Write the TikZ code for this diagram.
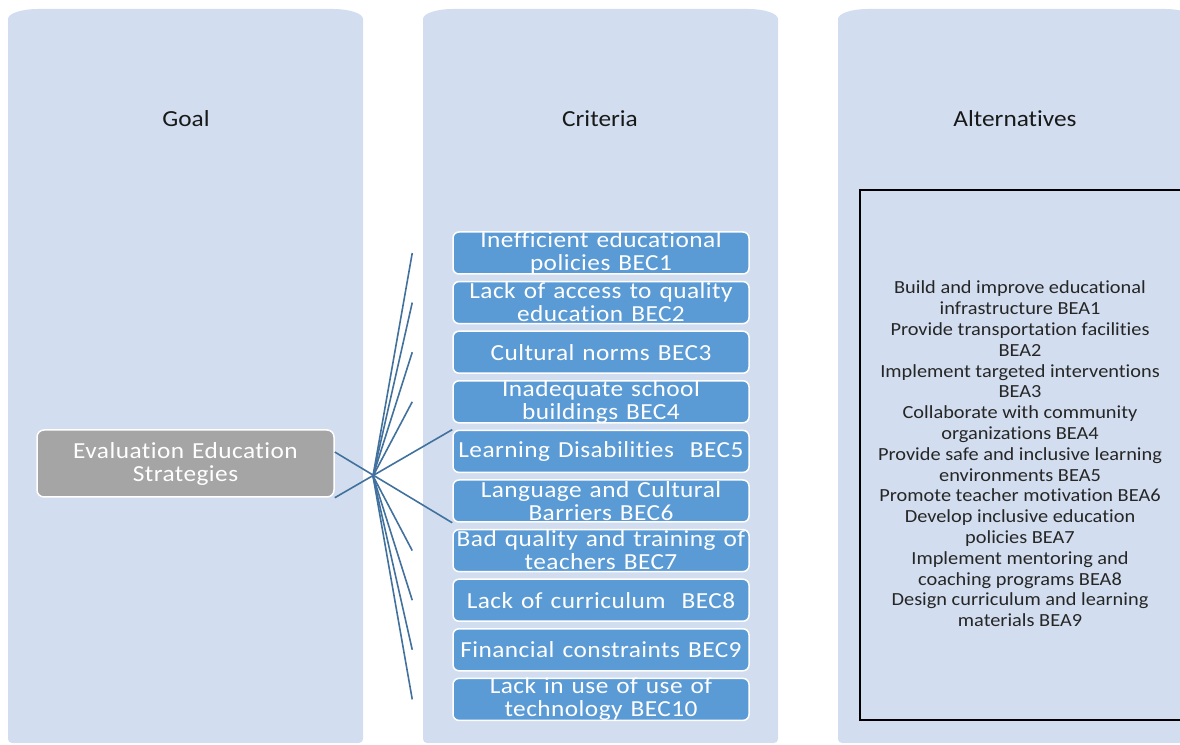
\documentclass[tikz,border=0pt]{standalone}
\usepackage{fontspec}
\setmainfont[FakeStretch=1.1,Ligatures={NoCommon},Contextuals={NoAlternate}]{Carlito}
\newfontfamily\boxfont[FakeStretch=1.1,LetterSpace=2,Ligatures={NoCommon},Contextuals={NoAlternate},WordSpace=1.3]{Carlito}
\usetikzlibrary{calc}

\definecolor{panelfill}{RGB}{210,222,239}
\definecolor{critfill}{RGB}{91,155,213}
\definecolor{goalfill}{RGB}{165,165,165}
\definecolor{linkcol}{RGB}{65,113,156}
\definecolor{alttext}{RGB}{38,38,38}

% a tall panel with wide elliptic top corners and small bottom corners
\newcommand{\panelshape}[3]{%
  \fill[panelfill] (#1,5) -- (#1,725)
    arc[start angle=180,end angle=90,x radius=30pt,y radius=10pt]
    -- ({#2-30},735)
    arc[start angle=90,end angle=0,x radius=30pt,y radius=10pt]
    -- (#2,5) arc[start angle=0,end angle=-90,radius=4pt]
    -- ({#1+4},1) arc[start angle=-90,end angle=-180,radius=4pt] -- cycle;
  \node[title] (#3) at ({(#1+#2)/2},625) {};
}

\tikzset{
  title/.style={inner sep=0pt, font=\fontsize{23}{23}\selectfont, text=black!90},
  critbox/.style={draw=white, line width=1.5pt, fill=critfill, rounded corners=6pt,
    minimum width=296pt, minimum height=42pt, inner sep=0pt},
  crittext/.style={inner sep=0pt, align=center, text=white,
    font=\boxfont\fontsize{23}{23}\selectfont},
  goalbox/.style={draw=white, line width=1.5pt, fill=goalfill, rounded corners=7pt,
    minimum width=297pt, minimum height=67pt, inner sep=0pt},
  link/.style={draw=linkcol, line width=1.6pt},
  altbox/.style={draw=black, line width=1.8pt},
}

\begin{document}
\begin{tikzpicture}[x=1pt,y=1pt]
\useasboundingbox (0,0) rectangle (1180,744);
\begin{scope}
\clip (0,0) rectangle (1180,744);

% background panels
\panelshape{8}{363}{colA}
\panelshape{423}{778}{colB}
\panelshape{838}{1195}{colC}

\node[title] (tgoal) at (186,625) {Goal};
\node[title] (tcrit) at (600,625) {Criteria};
\node[title] (talt) at (1015,625) {Alternatives};

% alternatives frame
\node[altbox, minimum width=330pt, minimum height=530pt, anchor=north west, inner sep=0pt]
  (altframe) at (859,555) {};
\node[inner sep=0pt, align=center, text=alttext,
  font=\fontsize{18.5}{20.8}\selectfont] (alts) at (1020,290) {%
Build and improve educational\\
infrastructure BEA1\\
Provide transportation facilities\\
BEA2\\
Implement targeted interventions\\
BEA3\\
Collaborate with community\\
organizations BEA4\\
Provide safe and inclusive learning\\
environments BEA5\\
Promote teacher motivation BEA6\\
Develop inclusive education\\
policies BEA7\\
Implement mentoring and\\
coaching programs BEA8\\
Design curriculum and learning\\
materials BEA9};

% goal
\node[goalbox] (goal) at (185.5,280.5) {};
\node[crittext] (goaltext) at (goal) {Evaluation Education\\Strategies};

% criteria boxes
\foreach \i/\yy in {1/491,2/441.4,3/391.8,4/342.2,5/292.6,6/243,7/193.4,8/143.8,9/94.2,10/44.6}{
  \node[critbox] (c\i) at (601,\yy) {};
}

% connectors
\coordinate (hub) at (373,268);
\coordinate (gupper) at ($(goal.east)+(0,11.5)$);
\foreach \i in {1,2,3,4,7,8,9,10}{
  \coordinate (e\i) at ([xshift=-40pt]c\i.west);
  \draw[link] (hub) -- (e\i);
}
\draw[link] (gupper) -- (c6.south west);
\draw[link] (goal.south east) -- (c5.north west);

% criteria labels
\node[crittext] (t1) at (c1) {Inefficient educational\\policies BEC1};
\node[crittext] (t2) at (c2) {Lack of access to quality\\education BEC2};
\node[crittext] (t3) at (c3) {Cultural norms BEC3};
\node[crittext] (t4) at (c4) {Inadequate school\\buildings BEC4};
\node[crittext] (t5) at (c5) {Learning Disabilities\ \ BEC5};
\node[crittext] (t6) at (c6) {Language and Cultural\\Barriers BEC6};
\node[crittext] (t7) at (c7) {Bad quality and training of\\teachers BEC7};
\node[crittext] (t8) at (c8) {Lack of curriculum\ \ BEC8};
\node[crittext] (t9) at (c9) {Financial constraints BEC9};
\node[crittext] (t10) at (c10) {Lack in use of use of\\technology BEC10};
\end{scope}
\end{tikzpicture}
\end{document}
